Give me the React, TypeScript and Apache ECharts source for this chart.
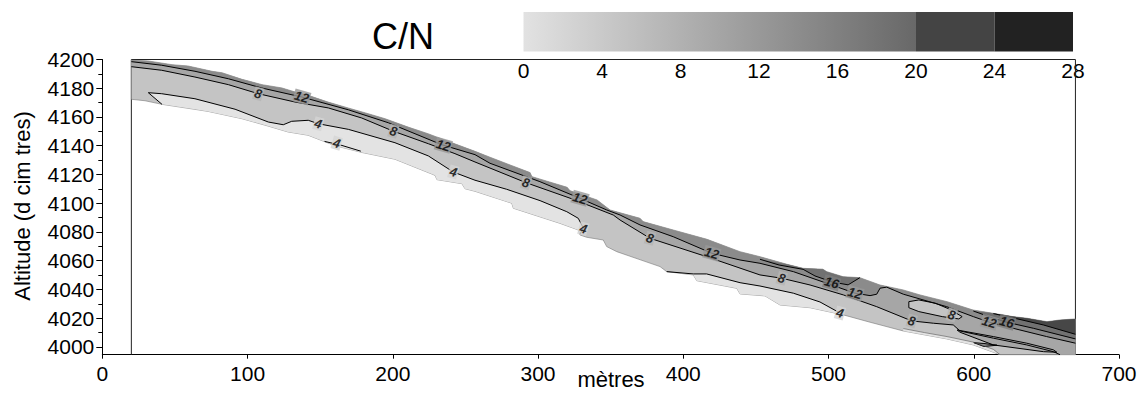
import React, { useEffect, useRef } from 'react';
import * as echarts from 'echarts';

// ---------- axes ----------
const Y_MIN = 3994.6;
const Y_MAX = 4200;
const X_MIN = 0;
const X_MAX = 700;
const xTicks = [0, 100, 200, 300, 400, 500, 600, 700];
const yMajorTicks = [4000, 4020, 4040, 4060, 4080, 4100, 4120, 4140, 4160, 4180, 4200];
const yMinorTicks = [4010, 4030, 4050, 4070, 4090, 4110, 4130, 4150, 4170, 4190];
const yAxisTitle = 'Altitude (d cim tres)';
const xAxisTitle = 'mètres';
const chartTitle = 'C/N';

// ---------- colour scale ----------
const colorbarTicks = [0, 4, 8, 12, 16, 20, 24, 28];
const colorbarSegments = [[0, 20], [20, 24], [24, 28]];

// ---------- grid frame (x from 20 to 670 m) ----------
const frameLine = [[20, Y_MIN], [20, 4200], [670, 4200], [670, Y_MIN]];

// ---------- profile edges ----------
const topEdge = [
  [20, 4199.5], [31.5, 4199], [48, 4196.4], [59, 4195.5], [75.5, 4191.8], [82.4, 4190.8],
  [96.2, 4186.2], [110, 4182.5], [123.7, 4180.2], [132.7, 4177.4], [141.7, 4175.1],
  [155.4, 4170.4], [169.2, 4166.3], [183, 4162.3], [194.7, 4158.8], [210.5, 4153],
  [224.2, 4148.4], [238, 4143.1], [256.6, 4136.1], [266.9, 4132], [294.5, 4121.3],
  [295.8, 4118.5], [320, 4111.1], [322, 4108.7], [340.6, 4102.3], [349.6, 4095.3],
  [370.2, 4089.5], [372.3, 4087.2], [393, 4081.4], [416.3, 4074.9], [439, 4066.3],
  [452.8, 4062.8], [471.4, 4057.5], [482.5, 4054.7], [496.1, 4054.1], [498.8, 4052.4],
  [510, 4048.9], [521.6, 4048.2], [535.4, 4043.1], [551.3, 4039.7], [563, 4036.2],
  [581.6, 4031.5], [599.5, 4025.7], [613.3, 4023.4], [627, 4021.1], [636.6, 4020],
  [650.4, 4017.6], [659.4, 4018.8], [670, 4019.5]
];
const bottomEdge = [
  [20, 4172.3], [29.4, 4171.3], [41.1, 4168.8], [63.8, 4165.3], [72.8, 4163.9],
  [96.2, 4158.8], [114.1, 4153.7], [127.8, 4149.6], [141.7, 4147.3], [160.3, 4140],
  [178.8, 4135.3], [201.5, 4130.6], [229.1, 4119.4], [230.4, 4116.4], [247.6, 4113.6],
  [249.7, 4110.1], [256.6, 4108.3], [281.9, 4100], [283, 4096.5], [315.1, 4086],
  [327.7, 4081.4], [328.9, 4077.9], [333.5, 4076.3], [344.9, 4074.4], [347.3, 4069.8],
  [354.2, 4066.3], [384, 4055.9], [388.6, 4052.4], [406.9, 4050.1], [409.3, 4046.1],
  [436.8, 4040.8], [439.1, 4036.9], [456.3, 4035.5], [466.6, 4029.2], [487.3, 4027.3],
  [510.2, 4022.3], [528.6, 4017.2], [551.5, 4011.1], [581.4, 4005.6], [599.7, 4001.4],
  [613.5, 3996.3], [618.1, 3994.6]
];

// ---------- contour lines ----------
const c4Upper = [
  [31.7, 4176.9], [40.9, 4176.2], [63.8, 4172.7], [91.4, 4165.4], [114.3, 4156.5],
  [124.6, 4154.6], [130.4, 4157], [141.8, 4157.7], [148.7, 4155.3], [169.4, 4151.4],
  [201.5, 4142.1], [224.5, 4132.9], [241.7, 4121.7], [256.6, 4116], [278.4, 4109.7],
  [301.4, 4101.8], [319.8, 4094.1], [327.7, 4089.5], [331.2, 4082.6], [328.9, 4078.6]
];
const c4Tail = [[153, 4143], [165, 4140.2], [178, 4136.2]];
const c4Lower = [
  [388.6, 4052.4], [406.9, 4050.8], [416.1, 4050.8], [439.1, 4044.7], [452.8, 4042.4],
  [475.8, 4037.4], [494.1, 4031.3], [507.9, 4023.6], [510.2, 4022.3]
];
const c4Sliver = [[551.5, 4012.8], [566, 4010], [581.6, 4007.2], [600, 4003.3], [613.5, 3998.3], [618.1, 3994.6]];
const c8Line = [
  [20, 4195], [40.9, 4192.5], [63.8, 4187.8], [86.8, 4182.5], [107.4, 4176.2], [132.7, 4170.4],
  [155.6, 4166.3], [178.6, 4159.3], [200.4, 4150.1], [224.5, 4141.4], [242.8, 4134.5],
  [256.6, 4128.7], [291.7, 4114.3], [324.3, 4102.7], [351.8, 4091.8], [356.5, 4088.3],
  [377.1, 4075.6], [416.1, 4062.8], [452.8, 4050.1], [467.8, 4047.8], [487.3, 4043.1],
  [510.2, 4036.2], [533.2, 4028], [557.3, 4018.1], [572.2, 4016.5], [585.9, 4015.3],
  [590.6, 4011.1], [613.5, 4006.1], [636.5, 4001.4], [654.8, 3996.7], [659.4, 3994.6]
];
const c12Line = [
  [20, 4198.5], [40.9, 4196], [63.8, 4191.8], [86.8, 4186.6], [109.7, 4180.2], [137.3, 4173.9],
  [169.4, 4165], [196.9, 4156], [233.7, 4140.7], [256.6, 4133.8], [266.9, 4127.8],
  [301.3, 4115], [328.9, 4103.4], [347.3, 4095.3], [356.5, 4091.8], [370.2, 4084.9],
  [393.1, 4076.7], [419.6, 4065.2], [439.1, 4060.5], [452.8, 4058.2], [475.8, 4052.4],
  [498.8, 4044.3], [518.2, 4037.4], [528.6, 4035.7], [533.2, 4036.7], [535.5, 4040.9],
  [540.1, 4041.6], [551.5, 4036.7], [581.4, 4028], [599.7, 4021.1], [610.7, 4017.2],
  [631.8, 4011.8], [650.2, 4007.2], [670, 4002.6]
];
const c16Pocket = [
  [452.8, 4061], [466, 4057], [482.5, 4054], [490.7, 4049.4], [502.5, 4045.2], [513.5, 4043.2], [521.6, 4048.2]
];
const c16Right = [[599.7, 4025], [613.5, 4020], [622.7, 4017.2], [641, 4013], [670, 4005.6]];
const c20Right = [[613.5, 4023.2], [627.2, 4020.2], [647.9, 4015.3], [670, 4008.8]];
const lensUpper = [
  [555.3, 4031.5], [562.2, 4032.7], [573.6, 4030.4], [582.8, 4026.5], [592, 4021.1],
  [589.7, 4019.5], [578.3, 4021.1], [562.2, 4024.6], [555.3, 4027.3]
];
const lensLong = [
  [588.5, 4011.8], [613.5, 4007.2], [636.5, 4002.6], [654.8, 3998], [657.2, 3996.3],
  [648, 3996.7], [613.5, 4001.4], [590.6, 4010.2]
];
const lensInner = [[600, 4003], [607, 4002.4], [616, 4001.2], [607, 4000.3]];

// ---------- contour labels [x, y, value] ----------
const contourLabels: [number, number, string][] = [
  [107.4, 4176.2, '8'], [137.3, 4173.9, '12'], [148.7, 4155.3, '4'], [161.4, 4141.8, '4'],
  [200.4, 4150.1, '8'], [234.8, 4140.3, '12'], [241.7, 4121.7, '4'], [291.7, 4114.3, '8'],
  [328.9, 4103.4, '12'], [331.2, 4082.3, '4'], [377.1, 4075.6, '8'], [419.6, 4065.2, '12'],
  [467.8, 4047.8, '8'], [502.2, 4044.7, '16'], [518.2, 4037.4, '12'], [507.9, 4023.6, '4'],
  [557.3, 4018.1, '8'], [584.8, 4022.3, '8'], [610.7, 4017.2, '12'], [622.7, 4017.2, '16']
];

// ---------- styling ----------
const FILL = {
  c0: '#e3e3e3', c4: '#c4c4c4', c8: '#a6a6a6', c12: '#8b8b8b', c16: '#717171', c20: '#474747'
};
const LABEL_BG: Record<string, string> = { '4': '#d4d4d4', '8': '#b5b5b5', '12': '#999999', '16': '#7e7e7e' };
const FONT = '"Liberation Sans", Arial, sans-serif';

const rev = (a: number[][]) => [...a].reverse();

export default function App() {
  const ref = useRef<HTMLDivElement>(null);

  useEffect(() => {
    document.body.style.margin = '0';
    const chart = echarts.init(ref.current!, null, { renderer: 'svg' });

    const regions: { pts: number[][]; fill: string; stroke?: string; lw?: number }[] = [
      { pts: [...topEdge, [670, Y_MIN], ...rev(bottomEdge)], fill: FILL.c4, stroke: '#777', lw: 0.6 },
      { pts: [...c8Line, [670, Y_MIN], ...rev(topEdge)], fill: FILL.c8 },
      { pts: [...c12Line, ...rev(topEdge)], fill: FILL.c12 },
      { pts: [...c16Pocket, ...rev(topEdge.filter(p => p[0] > 452.8 && p[0] < 521.6))], fill: FILL.c16 },
      { pts: [...c16Right, ...rev(topEdge.filter(p => p[0] > 599.7))], fill: FILL.c16 },
      { pts: [...c20Right, ...rev(topEdge.filter(p => p[0] > 613.5))], fill: FILL.c20 },
      { pts: [...c4Upper, ...rev(bottomEdge.filter(p => p[0] >= 41.1 && p[0] < 328.9))], fill: FILL.c0 },
      { pts: [...c4Lower, ...rev(bottomEdge.filter(p => p[0] > 388.6 && p[0] < 510.2))], fill: FILL.c0 },
      { pts: [...c4Sliver, ...rev(bottomEdge.filter(p => p[0] >= 551.5 && p[0] < 618.1))], fill: FILL.c0 },
      { pts: lensUpper, fill: FILL.c4, stroke: '#000', lw: 1 },
      { pts: lensLong, fill: FILL.c8, stroke: '#000', lw: 1 },
      { pts: lensInner, fill: FILL.c12, stroke: '#000', lw: 1 }
    ];

    const contourLines = [
      [[41.1, 4168.8], ...c4Upper], c4Tail, c4Lower, c8Line, c12Line, c16Pocket, c16Right, c20Right
    ];

    const lineSeries = contourLines.map(d => ({
      type: 'line',
      xAxisIndex: 0,
      yAxisIndex: 0,
      data: d,
      symbol: 'none',
      silent: true,
      lineStyle: { color: '#000', width: 1 },
      z: 3
    }));

    const gradient = new echarts.graphic.LinearGradient(0, 0, 1, 0, [
      { offset: 0, color: '#e2e2e2' },
      { offset: 1, color: '#686868' }
    ]);
    const segFills = [gradient, '#444444', '#222222'];

    const option: any = {
      animation: false,
      textStyle: { fontFamily: FONT },
      grid: [
        { left: 102.3, top: 59.5, width: 1016.7, height: 295.2, containLabel: false, outerBoundsMode: 'none' },
        { left: 523.5, top: 12, width: 549.5, height: 39.5, containLabel: false, outerBoundsMode: 'none' }
      ],
      xAxis: [
        {
          type: 'value', gridIndex: 0, min: X_MIN, max: X_MAX,
          axisLine: { show: true, lineStyle: { color: '#000', width: 1 } },
          axisTick: { show: true, customValues: xTicks, length: 4, lineStyle: { color: '#000' } },
          axisLabel: { customValues: xTicks, fontSize: 21, color: '#000', margin: 8, fontFamily: FONT, formatter: (v: number) => String(v) },
          splitLine: { show: false }
        },
        {
          type: 'value', gridIndex: 1, min: 0, max: 28,
          axisLine: { show: false }, axisTick: { show: false }, splitLine: { show: false },
          axisLabel: { customValues: colorbarTicks, fontSize: 21, color: '#000', margin: 8, fontFamily: FONT, showMinLabel: true, showMaxLabel: true, formatter: (v: number) => String(v) }
        }
      ],
      yAxis: [
        {
          type: 'value', gridIndex: 0, min: Y_MIN, max: Y_MAX, position: 'left',
          axisLine: { show: true, lineStyle: { color: '#000', width: 1 } },
          axisTick: { show: true, customValues: yMajorTicks, length: 6, lineStyle: { color: '#000' } },
          axisLabel: { customValues: yMajorTicks, fontSize: 21, color: '#000', margin: 8, fontFamily: FONT, formatter: (v: number) => String(v) },
          splitLine: { show: false }
        },
        {
          type: 'value', gridIndex: 0, min: Y_MIN, max: Y_MAX, position: 'left',
          axisLine: { show: false },
          axisTick: { show: true, customValues: yMinorTicks, length: 4, lineStyle: { color: '#000' } },
          axisLabel: { show: false },
          splitLine: { show: false }
        },
        { type: 'value', gridIndex: 1, min: 0, max: 1, show: false }
      ],
      graphic: [
        {
          type: 'text', x: 403, y: 36,
          style: { text: chartTitle, fontSize: 36, fill: '#000', fontFamily: FONT, textAlign: 'center', textVerticalAlign: 'middle' }
        },
        {
          type: 'text', x: 22, y: 206, rotation: Math.PI / 2,
          style: { text: yAxisTitle, fontSize: 22, fill: '#000', fontFamily: FONT, textAlign: 'center', textVerticalAlign: 'middle' }
        },
        {
          type: 'text', x: 611, y: 379,
          style: { text: xAxisTitle, fontSize: 22, fill: '#000', fontFamily: FONT, textAlign: 'center', textVerticalAlign: 'middle' }
        }
      ],
      series: [
        {
          type: 'line', xAxisIndex: 0, yAxisIndex: 0, data: frameLine, symbol: 'none', silent: true,
          lineStyle: { color: '#222', width: 1 }, z: 1
        },
        {
          type: 'custom', xAxisIndex: 0, yAxisIndex: 0, silent: true, z: 2,
          data: regions.map((r, i) => [r.pts[0][0], r.pts[0][1], i]),
          renderItem: (params: any, api: any) => {
            const r = regions[api.value(2)];
            const points = r.pts.map(p => api.coord(p));
            return {
              type: 'polygon',
              shape: { points },
              style: { fill: r.fill, stroke: r.stroke || 'none', lineWidth: r.lw || 0 }
            };
          }
        },
        ...lineSeries,
        {
          type: 'line', xAxisIndex: 0, yAxisIndex: 0, data: c4Sliver, symbol: 'none', silent: true,
          lineStyle: { color: '#555', width: 0.6 }, z: 3
        },
        {
          type: 'scatter', xAxisIndex: 0, yAxisIndex: 0, silent: true, z: 4,
          symbolSize: 1, itemStyle: { color: 'rgba(0,0,0,0)' },
          data: contourLabels.map(l => ({
            value: [l[0], l[1], l[2]],
            label: { backgroundColor: LABEL_BG[l[2]] }
          })),
          label: {
            show: true, position: 'inside', rotate: -16,
            formatter: (p: any) => String(p.value[2]),
            fontSize: 13, fontWeight: 'bold', fontStyle: 'italic', color: '#000',
            fontFamily: FONT, padding: [0, 1]
          }
        },
        {
          type: 'custom', xAxisIndex: 1, yAxisIndex: 2, silent: true, z: 2,
          data: colorbarSegments.map((s, i) => [s[0], s[1], i]),
          renderItem: (params: any, api: any) => {
            const a = api.coord([api.value(0), 1]);
            const b = api.coord([api.value(1), 0]);
            return {
              type: 'rect',
              shape: { x: a[0], y: a[1], width: b[0] - a[0], height: b[1] - a[1] },
              style: { fill: segFills[api.value(2)] }
            };
          }
        }
      ]
    };

    chart.setOption(option);
    return () => chart.dispose();
  }, []);

  return <div ref={ref} style={{ width: 1140, height: 396 }} />;
}
